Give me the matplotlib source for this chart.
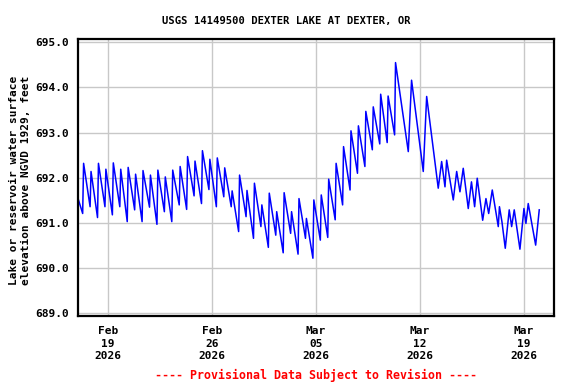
import matplotlib
matplotlib.use("Agg")
import matplotlib.pyplot as plt
import pandas as pd

START = pd.Timestamp("2026-02-17 00:00")
FIRST_VALUE = 691.52

# twice-daily cycles up to the Mar 10 crest: low before the rise, high after it
cycle_lows = [
    691.21, 691.36, 691.12, 691.36, 691.18, 691.36, 691.03, 691.29, 691.03, 691.35,
    690.97, 691.25, 691.03, 691.40, 691.30, 691.60, 691.43, 691.74, 691.36, 691.58,
    691.36, 690.81, 691.14, 690.66, 690.92, 690.46, 690.73, 690.34, 690.77, 690.31,
    690.66, 690.22, 690.62, 690.68, 691.07, 691.40, 691.73, 692.10, 692.25, 692.62,
    692.75, 692.78, 692.95,
]
cycle_highs = [
    692.32, 692.14, 692.32, 692.19, 692.33, 692.19, 692.23, 692.08, 692.16, 692.06,
    692.17, 692.02, 692.17, 692.25, 692.47, 692.37, 692.60, 692.41, 692.44, 692.22,
    691.71, 692.06, 691.72, 691.88, 691.40, 691.66, 691.25, 691.67, 691.25, 691.54,
    691.10, 691.51, 691.62, 691.97, 692.32, 692.69, 693.04, 693.15, 693.47, 693.57,
    693.85, 693.81, 694.55,
]

# after the crest (hours past Feb 17 00:00)
late_hours = [
    533.1, 538.4, 557.3, 562.8, 581.5, 587.0, 592.4, 595.1, 605.8, 611.3,
    616.6, 621.9, 630.0, 635.2, 640.3, 644.5, 653.3, 658.6, 663.0, 668.8,
    678.5, 680.4, 684.4, 689.8, 696.2, 700.1, 704.3, 713.5, 720.0, 723.2,
    726.9, 738.9, 744.7,
]
late_levels = [
    692.58, 694.16, 692.14, 693.80, 691.77, 692.36, 691.80, 692.39, 691.51, 692.14,
    691.69, 692.21, 691.32, 691.91, 691.36, 691.99, 691.06, 691.54, 691.21, 691.73,
    690.92, 691.36, 691.03, 690.44, 691.29, 690.92, 691.29, 690.42, 691.32, 690.99,
    691.43, 690.51, 691.29,
]

tick_dates = ["2026-02-19", "2026-02-26", "2026-03-05", "2026-03-12", "2026-03-19"]
y_ticks = [689, 690, 691, 692, 693, 694, 695]

cycle_times = pd.date_range("2026-02-17 07:00", periods=len(cycle_lows), freq="12h")
times = [START]
levels = [FIRST_VALUE]
for t, lo, hi in zip(cycle_times, cycle_lows, cycle_highs):
    times += [t, t + pd.Timedelta(hours=1.5)]
    levels += [lo, hi]
for h, v in zip(late_hours, late_levels):
    times.append(START + pd.Timedelta(hours=h))
    levels.append(v)

FONT = "DejaVu Sans Mono"
FS = 8

fig = plt.figure(figsize=(5.76, 3.84), dpi=100)
fig.set_facecolor("white")
ax = fig.add_axes([0.136, 0.177, 0.8263, 0.7207])

ax.plot(times, levels, color="#0000ff", lw=1.1)

ax.set_xlim(START, pd.Timestamp("2026-03-21 01:00"))
ax.set_ylim(688.94, 695.066)

ax.set_yticks(y_ticks)
ax.set_yticklabels([f"{v:.1f}" for v in y_ticks], fontfamily=FONT, fontweight="bold", fontsize=FS)
xt = pd.to_datetime(tick_dates)
ax.set_xticks(xt)
ax.set_xticklabels([d.strftime("%b\n%d\n%Y") for d in xt], fontfamily=FONT,
                   fontweight="bold", fontsize=FS, linespacing=1.35)
ax.tick_params(length=0, pad=7)

ax.grid(True, color="#c8c8c8", lw=1.0)
ax.set_axisbelow(True)
for spine in ax.spines.values():
    spine.set_linewidth(1.6)
    spine.set_color("black")

fig.text(0.497, 0.946, "USGS 14149500 DEXTER LAKE AT DEXTER, OR", ha="center", va="center",
         fontfamily=FONT, fontweight="bold", fontsize=7.6)
fig.text(0.035, 0.529, "Lake or reservoir water surface\nelevation above NGVD 1929, feet",
         rotation=90, ha="center", va="center", fontfamily=FONT, fontweight="bold",
         fontsize=FS, linespacing=1.2)
fig.text(0.549, 0.023, "---- Provisional Data Subject to Revision ----", ha="center",
         va="center", color="red", fontfamily=FONT, fontweight="bold", fontsize=8.4)

fig.savefig("out.png", dpi=100, facecolor="white")
